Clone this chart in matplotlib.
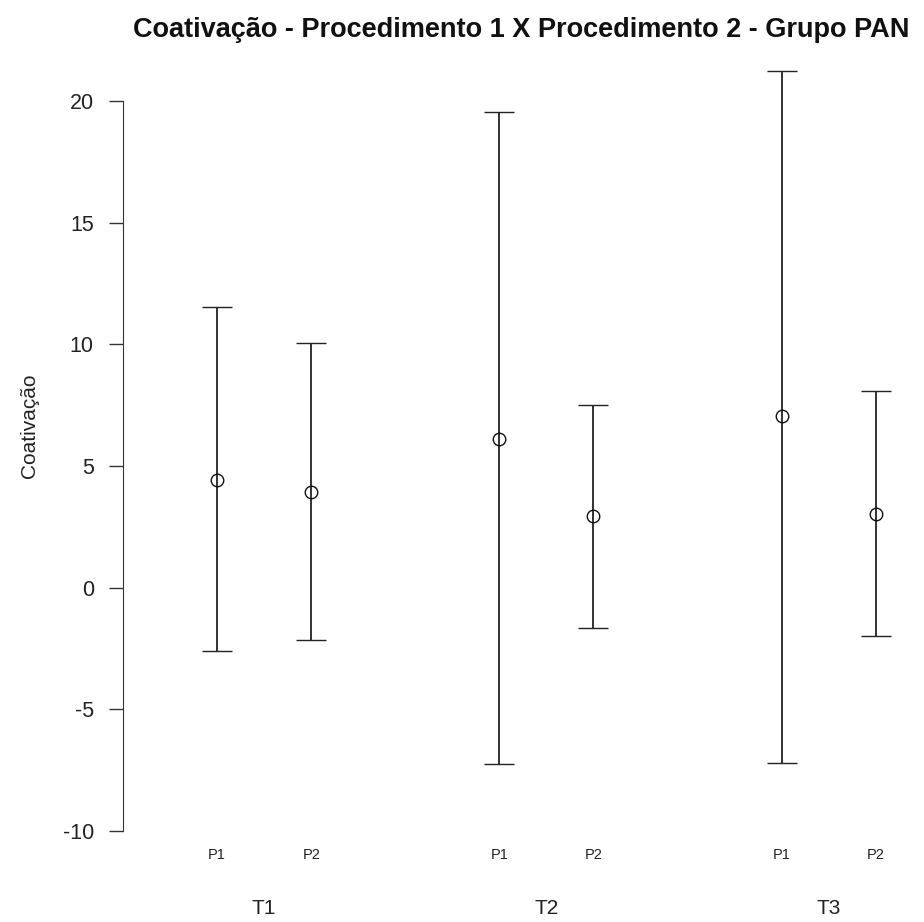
import numpy as np
import matplotlib.pyplot as plt
import matplotlib.transforms as mtransforms

plt.rcParams['font.family'] = ['Liberation Sans', 'DejaVu Sans']

# Médias e limites dos intervalos para cada tempo e procedimento
tempos = ['T1', 'T2', 'T3']
procedimentos = ['P1', 'P2', 'P1', 'P2', 'P1', 'P2']
posicoes = [1, 2, 4, 5, 7, 8]
medias = [4.43, 3.94, 6.12, 2.96, 7.06, 3.04]
limite_sup = [11.54, 10.06, 19.55, 7.52, 21.23, 8.09]
limite_inf = [-2.59, -2.14, -7.27, -1.68, -7.23, -2.01]
pos_tempos = [1.5, 4.5, 7.5]
yticks = [-10, -5, 0, 5, 10, 15, 20]

medias = np.array(medias)
erro = [medias - np.array(limite_inf), np.array(limite_sup) - medias]

fig = plt.figure(figsize=(9.24, 9.22), dpi=100)
ax = fig.add_axes([123 / 924, 1 - 860 / 922, (904 - 123) / 924, (860 - 72) / 922])

barras = ax.errorbar(posicoes, medias, yerr=erro, fmt='o', mfc='none', mec='#111111',
                     ms=9, mew=1.0, ecolor='#222222', elinewidth=1.3, capsize=10.8,
                     capthick=1.3)
# não cortar a barra que passa do limite superior
for artista in barras.lines[1] + barras.lines[2] + (barras.lines[0],):
    artista.set_clip_on(False)

ax.set_xlim(0, 8.3)
ax.set_ylim(-11.2, 21.2)

# Estilo de eixo simples: só o eixo y, sem caixa
for lado in ['top', 'right', 'bottom']:
    ax.spines[lado].set_visible(False)
ax.spines['left'].set_bounds(-10, 20)
ax.spines['left'].set_color('#333333')
ax.set_yticks(yticks)
ax.set_yticklabels([str(v) for v in yticks], fontsize=15.5, color='#222222')
ax.tick_params(axis='y', length=10, width=1, color='#333333', pad=11)
ax.set_xticks([])

fig.text(30 / 924, 1 - 426 / 922, 'Coativação', rotation=90, ha='center', va='center',
         fontsize=15, color='#222222')

trans = mtransforms.blended_transform_factory(ax.transData, fig.transFigure)
for x, p in zip(posicoes, procedimentos):
    ax.text(x, 1 - 855 / 922, p, transform=trans, ha='center', va='center',
            fontsize=10.5, color='#222222')
for x, t in zip(pos_tempos, tempos):
    ax.text(x, 1 - 908 / 922, t, transform=trans, ha='center', va='center',
            fontsize=15, color='#222222')

fig.text(521 / 924, 1 - 30 / 922, 'Coativação - Procedimento 1 X Procedimento 2 - Grupo PAN',
         ha='center', va='center', fontsize=19.5, fontweight='bold', color='#111111')

fig.savefig('out.png', dpi=100)
